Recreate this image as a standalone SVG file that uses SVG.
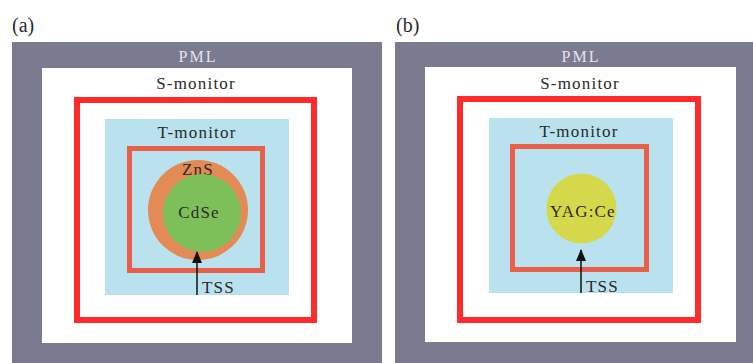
<svg xmlns="http://www.w3.org/2000/svg" width="753" height="363" viewBox="0 0 753 363" font-family="'Liberation Serif', 'DejaVu Serif', 'Times New Roman', serif">
<style>
  text { fill: #2a2a2a; font-family: "Liberation Serif", "DejaVu Serif", "Times New Roman", serif; }
  .pml { fill: #7b7b8f; }
  .pmlt { fill: #e4e4ea; font-size: 16px; letter-spacing: 2px; }
  .lbl { font-size: 17px; letter-spacing: 1.2px; }
  .panel { font-size: 20px; }
  .smon { fill: none; stroke: #ff2b2b; stroke-width: 6; }
  .tmon { fill: none; stroke: #e8604a; stroke-width: 5; }
  .bg { fill: #ffffff; }
  .cyan { fill: #b9e2ee; }
  .arrow { stroke: #111; stroke-width: 1.5; fill: none; }
</style>
<defs>
  <marker id="ah" markerWidth="12" markerHeight="10" refX="11" refY="5" orient="auto" markerUnits="userSpaceOnUse" viewBox="0 0 12 10">
    <path d="M0,0 L12,5 L0,10 Z" fill="#111"/>
  </marker>
</defs>
<rect width="753" height="363" fill="#ffffff"/>

<text class="panel" x="12" y="32">(a)</text>
<text class="panel" x="396" y="32">(b)</text>

<g id="panel-a">
  <g id="pml-a"><rect class="pml" x="12" y="42" width="370" height="321"/><text class="pmlt" x="198" y="62" text-anchor="middle">PML</text></g>
  <g id="sim-a"><rect class="bg" x="42" y="68" width="310" height="275"/></g>
  <g id="smon-a"><rect class="smon" x="77" y="100" width="237" height="220"/><text class="lbl" x="196" y="89" text-anchor="middle">S-monitor</text></g>
  <g id="region-a"><rect class="cyan" x="105" y="119" width="184" height="176"/></g>
  <g id="tmon-a"><rect class="tmon" x="129.5" y="148.5" width="133" height="122"/><text class="lbl" x="197" y="138" text-anchor="middle">T-monitor</text></g>
  <g id="zns"><circle cx="198" cy="210" r="50" fill="#e38a55"/><text class="lbl" x="198" y="175" text-anchor="middle">ZnS</text></g>
  <g id="cdse"><circle cx="202" cy="213" r="39" fill="#7dc05a"/><text class="lbl" x="199" y="218" text-anchor="middle">CdSe</text></g>
  <g id="tss-a"><text class="lbl" x="202" y="293">TSS</text></g>
</g>

<g id="panel-b">
  <g id="pml-b"><rect class="pml" x="395" y="42" width="358" height="321"/><text class="pmlt" x="581" y="62" text-anchor="middle">PML</text></g>
  <g id="sim-b"><rect class="bg" x="425" y="67" width="311" height="275"/></g>
  <g id="smon-b"><rect class="smon" x="460" y="99" width="238" height="221"/><text class="lbl" x="580" y="89" text-anchor="middle">S-monitor</text></g>
  <g id="region-b"><rect class="cyan" x="489" y="118" width="184" height="175"/></g>
  <g id="tmon-b"><rect class="tmon" x="512.5" y="146.5" width="134" height="123"/><text class="lbl" x="579" y="137" text-anchor="middle">T-monitor</text></g>
  <g id="yag"><circle cx="581.5" cy="208.5" r="35" fill="#d5d84a"/><text class="lbl" x="583" y="217" text-anchor="middle">YAG:Ce</text></g>
  <g id="tss-b"><text class="lbl" x="586" y="292">TSS</text></g>
</g>

<g id="connectors">
  <line class="arrow" x1="197" y1="295" x2="197" y2="252" marker-end="url(#ah)"/>
  <line class="arrow" x1="581" y1="293" x2="581" y2="250" marker-end="url(#ah)"/>
</g>
</svg>
